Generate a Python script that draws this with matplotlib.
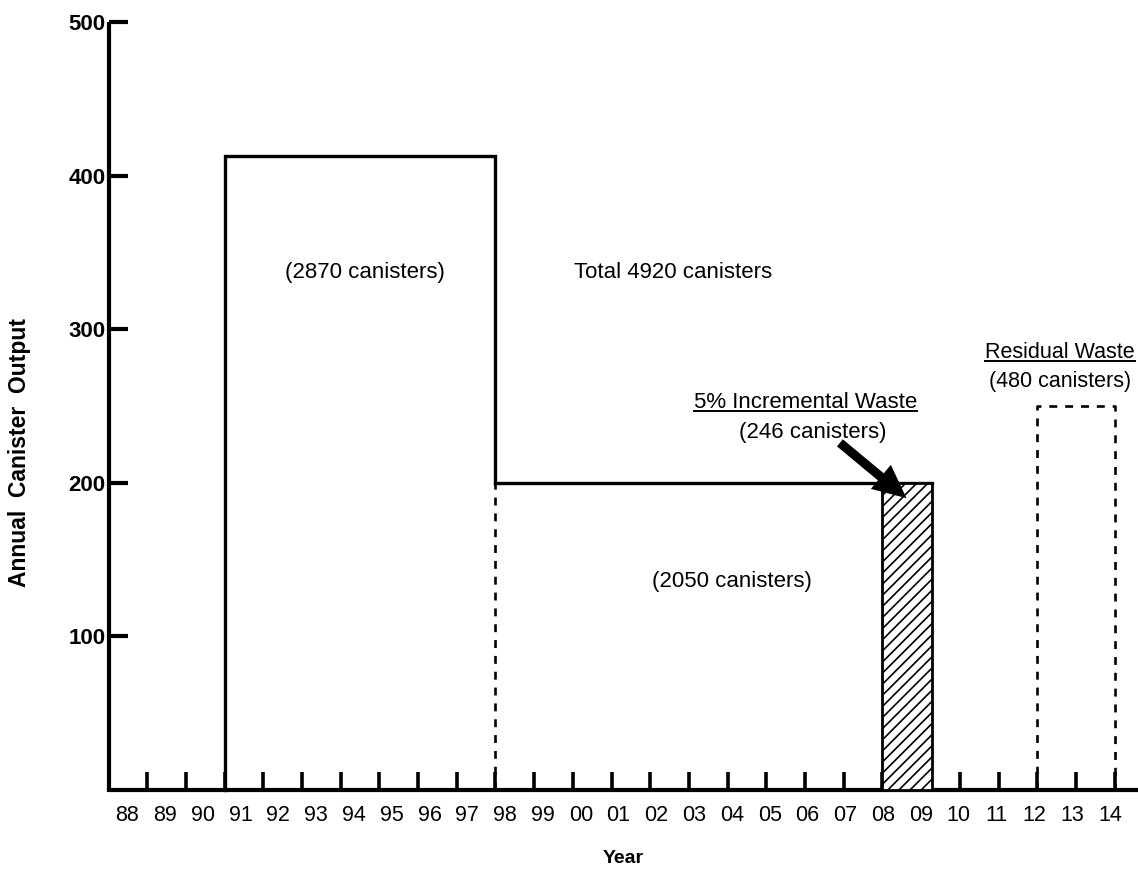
import matplotlib
matplotlib.use('Agg')
import matplotlib.pyplot as plt
import numpy as np
from matplotlib.lines import Line2D

plt.rcParams['font.family'] = ['Liberation Sans', 'DejaVu Sans']
plt.rcParams['hatch.linewidth'] = 1.2

# ---- data ----
years = list(range(1988, 2015))
year_labels = [f"{y % 100:02d}" for y in years]
y_ticks = [100, 200, 300, 400, 500]

phase1_start, phase1_end, phase1_rate = 1991, 1998, 413
phase2_start, phase2_end, phase2_rate = 1998, 2008, 200
incr_start, incr_end, incr_rate = 2008, 2009.28, 200
resid_start, resid_end, resid_rate = 2012, 2014, 250

# ---- figure ----
W, H = 1138, 875
fig = plt.figure(figsize=(W / 100, H / 100), dpi=100)
x0_px, base_px, top_px = 108.5, 790, 22
ax = fig.add_axes([x0_px / W, (H - base_px) / H, 1 - x0_px / W, (base_px - top_px) / H])
px_per_year = 38.7
ax.set_xlim(1988, 1988 + (W - x0_px) / px_per_year)
ax.set_ylim(0, 500)

lw = 2.4
dash = (0, (3, 3))
# phase 1 box
ax.plot([phase1_start, phase1_start, phase1_end, phase1_end],
        [0, phase1_rate, phase1_rate, phase2_rate], color='black', lw=lw,
        solid_joinstyle='miter', clip_on=False)
ax.plot([phase1_end, phase1_end], [0, phase2_rate], color='black', lw=1.9, linestyle=dash)
# phase 2 level
ax.plot([phase2_start, incr_end], [phase2_rate, incr_rate], color='black', lw=lw)
# incremental waste (hatched)
ax.bar(incr_start, incr_rate, width=incr_end - incr_start, align='edge',
       facecolor='white', edgecolor='black', hatch='///', lw=2.0, zorder=3)
# residual waste (dashed)
ax.plot([resid_start, resid_start, resid_end, resid_end],
        [0, resid_rate, resid_rate, 0], color='black', lw=1.9, linestyle=dash)

# ---- axes styling ----
for s in ['top', 'right']:
    ax.spines[s].set_visible(False)
ax.spines['left'].set_linewidth(3.0)
ax.spines['bottom'].set_linewidth(3.0)
ax.spines['left'].set_capstyle('butt')

ax.set_yticks(y_ticks)
ax.set_yticklabels([str(v) for v in y_ticks], fontsize=16, fontweight='bold')
ax.tick_params(axis='y', direction='in', length=14, width=3.0, pad=2)

label_shift = np.linspace(0.48, -0.12, len(years))
ax.set_xticks([y + s for y, s in zip(years, label_shift)])
ax.set_xticklabels(year_labels, fontsize=15.5)
ax.tick_params(axis='x', which='major', length=0, pad=11)
ax.set_xticks(years[1:], minor=True)
ax.tick_params(axis='x', which='minor', direction='in', length=13, width=2.6)

ax.set_ylabel('Annual  Canister  Output', fontsize=16.5, fontweight='bold')
ax.yaxis.set_label_coords((31 - x0_px) / (W - x0_px), 0.44)
ax.set_xlabel('Year', fontsize=14, fontweight='bold')
ax.xaxis.set_label_coords(0.5, -(850 - base_px) / (base_px - top_px))

# ---- annotations ----
fs = 16
ax.text(1994.63, 337, '(2870 canisters)', fontsize=fs, ha='center', va='center')
ax.text(2002.6, 337, 'Total 4920 canisters', fontsize=fs, ha='center', va='center')
ax.text(2004.1, 136, '(2050 canisters)', fontsize=fs, ha='center', va='center')
t1 = ax.text(2006.02, 252, '5% Incremental Waste', fontsize=fs, ha='center', va='center')
ax.text(2006.2, 233, '(246 canisters)', fontsize=fs, ha='center', va='center')
t2 = ax.text(2012.58, 285, 'Residual Waste', fontsize=15.5, ha='center', va='center')
ax.text(2012.58, 266, '(480 canisters)', fontsize=15.5, ha='center', va='center')

ax.annotate('', xy=(2008.62, 190), xytext=(2006.9, 226),
            arrowprops=dict(arrowstyle='simple,tail_width=0.22,head_width=0.75,head_length=0.8',
                            mutation_scale=30, facecolor='black', edgecolor='black', lw=0,
                            shrinkA=0, shrinkB=0))

# underline the two headings
fig.canvas.draw()
r = fig.canvas.get_renderer()
for t in (t1, t2):
    bb = t.get_window_extent(r)
    y = (bb.y0 + 2) / H
    fig.add_artist(Line2D([bb.x0 / W, bb.x1 / W], [y, y], color='black', lw=1.4))

fig.savefig('out.png', dpi=100)
